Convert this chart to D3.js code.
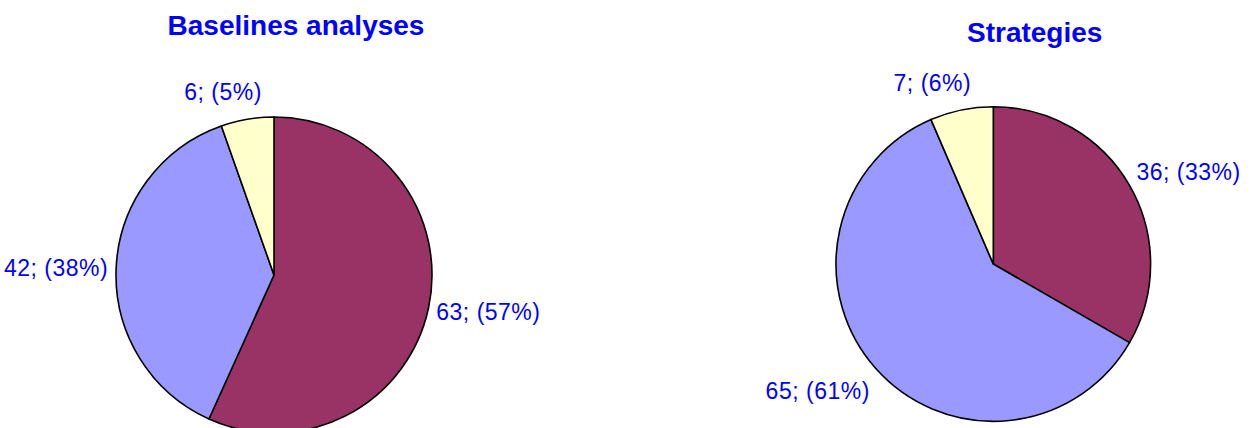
<!DOCTYPE html>
<html>
<head>
<meta charset="utf-8">
<script src="https://cdn.jsdelivr.net/npm/d3@7"></script>
<style>
  html, body { margin: 0; padding: 0; background: #ffffff; }
  svg { display: block; }
</style>
</head>
<body>
<svg id="chart" width="1258" height="428"></svg>
<script>
// ---- data ----
const categories = ["A", "B", "C"];
const baselineTitle = "Baselines analyses";
const baselineValues = [63, 42, 6];
const baselinePercents = ["57%", "38%", "5%"];
const strategyTitle = "Strategies";
const strategyValues = [36, 65, 7];
const strategyPercents = ["33%", "61%", "6%"];

// ---- styles / layout ----
const sliceColors = ["#993366", "#9999FF", "#FFFFCC"];
const textColor = "#0000FF";
const fontFamily = "'Liberation Sans', Arial, Helvetica, sans-serif";

const panels = [
  { title: baselineTitle, values: baselineValues, pcts: baselinePercents,
    cx: 274, cy: 275, r: 158, titleX: 296, titleY: 35 },
  { title: strategyTitle, values: strategyValues, pcts: strategyPercents,
    cx: 993.3, cy: 264, r: 157.3, titleX: 1034.7, titleY: 41.5 }
];

const svg = d3.select("#chart");

const pie = d3.pie().sort(null).value(d => d.value);

panels.forEach(p => {
  const g = svg.append("g").attr("transform", `translate(${p.cx},${p.cy})`);
  const data = categories.map((c, i) => ({ cat: c, value: p.values[i], pct: p.pcts[i], color: sliceColors[i] }));
  const arcs = pie(data);
  const arc = d3.arc().innerRadius(0).outerRadius(p.r);

  g.selectAll("path.slice")
    .data(arcs)
    .enter().append("path")
    .attr("class", "slice")
    .attr("d", arc)
    .attr("fill", d => d.data.color)
    .attr("stroke", "#000")
    .attr("stroke-width", 1.6)
    .attr("stroke-linejoin", "round");

  // labels
  const labelR = p.r + 8;
  arcs.forEach(a => {
    const mid = (a.startAngle + a.endAngle) / 2;
    const dx = Math.sin(mid), dy = -Math.cos(mid);
    const px = dx * labelR, py = dy * labelR;
    const t = g.append("text")
      .text(`${a.data.value}; (${a.data.pct})`)
      .attr("font-family", fontFamily)
      .attr("font-size", 23)
      .attr("letter-spacing", 0.5)
      .attr("fill", textColor)
      .attr("text-anchor", "middle");
    const w = t.node().getComputedTextLength();
    const fx = Math.max(-1, Math.min(1, 3.5 * dx));
    const fy = 1.6 * Math.sign(dy) * Math.min(1, Math.pow(Math.abs(dy) / 0.7, 2));
    const cxl = px + (w / 2) * fx;
    const cyl = py + 12 * fy;
    t.attr("x", cxl).attr("y", cyl + 8.2);
  });

  // title
  svg.append("text")
    .text(p.title)
    .attr("x", p.titleX)
    .attr("y", p.titleY)
    .attr("text-anchor", "middle")
    .attr("font-family", fontFamily)
    .attr("font-size", 28)
    .attr("font-weight", "bold")
    .attr("fill", textColor);
});
</script>
</body>
</html>
